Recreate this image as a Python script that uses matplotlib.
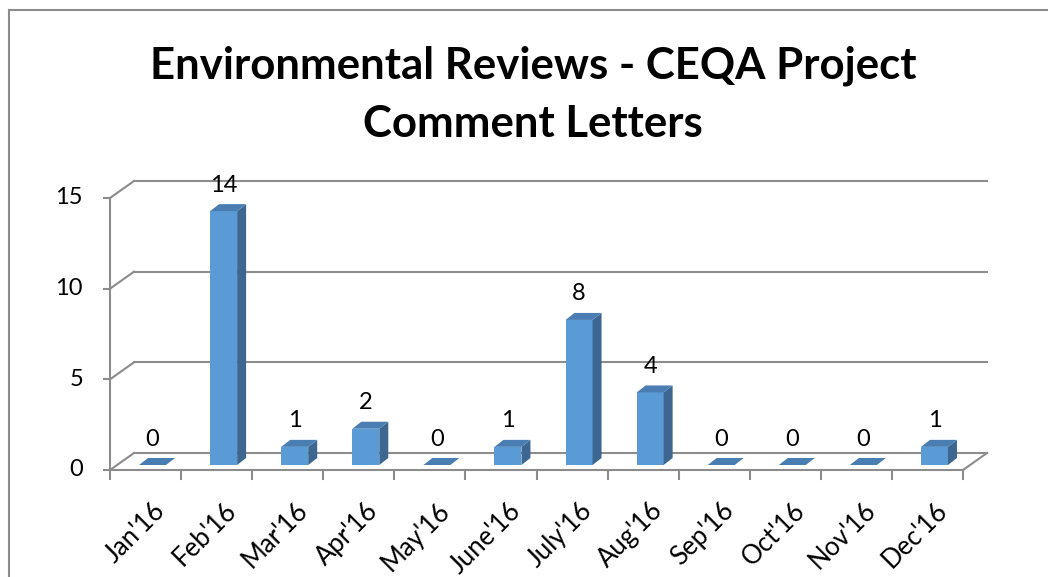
import matplotlib.pyplot as plt
from matplotlib.patches import Polygon
from matplotlib.lines import Line2D

months = ["Jan'16", "Feb'16", "Mar'16", "Apr'16", "May'16", "June'16",
          "July'16", "Aug'16", "Sep'16", "Oct'16", "Nov'16", "Dec'16"]
letters = [0, 14, 1, 2, 0, 1, 8, 4, 0, 0, 0, 1]
yticks = [0, 5, 10, 15]
title_lines = ["Environmental Reviews - CEQA Project", "Comment Letters"]

plt.rcParams['font.family'] = ['Lato', 'DejaVu Sans']

W, H = 1048, 577
fig = plt.figure(figsize=(W / 100, H / 100), dpi=100)
# front plane of the fake 3d box
ax = fig.add_axes([110 / W, 107 / H, 853 / W, 272 / H])
ax.set_xlim(0, 12)
ax.set_ylim(0, 15)
ax.axis('off')

px_x = 12 / 853.0   # data units per pixel, x
px_y = 15 / 272.0   # data units per pixel, y

wall_dx, wall_dy = 24 * px_x, 17 * px_y
bar_dx, bar_dy = 7 * px_x, 5 * px_y
side_dx, side_dy = 9 * px_x, 7 * px_y
bar_w = 27 * px_x

grid_c = '#8c8c8c'
front_c = '#5b9bd5'
top_c = '#4a7eb2'
side_c = '#3d6690'
fs = 17

# back wall grid + left wall diagonals
for v in yticks:
    ax.plot([wall_dx, 12 + wall_dx], [v + wall_dy, v + wall_dy], color=grid_c, lw=1.5, clip_on=False, zorder=1)
    ax.plot([0, wall_dx], [v, v + wall_dy], color=grid_c, lw=1.5, clip_on=False, zorder=1)
    ax.plot([-6 * px_x, 0], [v, v], color=grid_c, lw=1.5, clip_on=False, zorder=1)
    ax.text(-27 * px_x, v, str(v), ha='right', va='center', fontsize=fs, color='black')

ax.plot([0, 0], [0, 15], color=grid_c, lw=1.5, clip_on=False, zorder=1)
ax.plot([0, 12], [0, 0], color=grid_c, lw=1.5, clip_on=False, zorder=1)
ax.plot([12, 12 + wall_dx], [0, wall_dy], color=grid_c, lw=1.5, clip_on=False, zorder=1)
for k in range(13):
    ax.plot([k, k], [0, -9 * px_y], color=grid_c, lw=1.5, clip_on=False, zorder=1)

# bars
for i, v in enumerate(letters):
    x0 = i + 0.5 + bar_dx - bar_w / 2
    x1 = x0 + bar_w
    y0 = bar_dy
    y1 = bar_dy + v
    if v > 0:
        ax.bar(i + 0.5 + bar_dx, v, bottom=bar_dy, width=bar_w, color=front_c, zorder=3, clip_on=False)
        ax.add_patch(Polygon([[x1, y0], [x1 + side_dx, y0 + side_dy], [x1 + side_dx, y1 + side_dy], [x1, y1]],
                             closed=True, facecolor=side_c, edgecolor='none', zorder=3, clip_on=False))
    ax.add_patch(Polygon([[x0, y1], [x1, y1], [x1 + side_dx, y1 + side_dy], [x0 + side_dx, y1 + side_dy]],
                         closed=True, facecolor=top_c, edgecolor='none', zorder=3, clip_on=False))
    ax.annotate(str(v), (i + 0.5 + bar_dx, y1), xytext=(0, 14), textcoords='offset points',
                ha='center', va='baseline', fontsize=fs, annotation_clip=False)

# category labels
for i, m in enumerate(months):
    ax.annotate(m, (i + 0.5, 0), xytext=(5, -20), textcoords='offset points',
                ha='right', va='top', rotation=45, rotation_mode='anchor', fontsize=18.5,
                annotation_clip=False)

# title
fig.text(533 / W, 1 - 78 / H, title_lines[0], ha='center', va='baseline', fontsize=31.5, fontweight='bold')
fig.text(533 / W, 1 - 137 / H, title_lines[1], ha='center', va='baseline', fontsize=31.5, fontweight='bold')

# chart area border
fig.add_artist(Line2D([9 / W, 1], [1 - 10 / H, 1 - 10 / H], color='#8c8c8c', lw=1.5))
fig.add_artist(Line2D([9 / W, 9 / W], [0, 1 - 10 / H], color='#8c8c8c', lw=1.5))

fig.savefig('out.png', dpi=100)
